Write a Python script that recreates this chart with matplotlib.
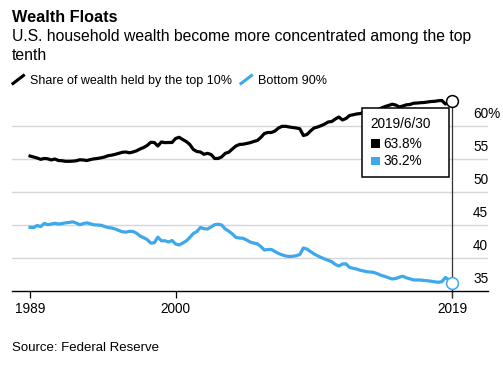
import numpy as np
import matplotlib.pyplot as plt
from matplotlib.lines import Line2D
from matplotlib.patches import Rectangle
from matplotlib.transforms import ScaledTranslation

plt.rcParams['font.family'] = ['Liberation Sans', 'DejaVu Sans']

# quarterly, 1989 Q3 .. 2019 Q2 (quarter ends)
first_year = 1989.75
top10 = [
    55.45, 55.30, 55.15, 54.95, 55.08, 55.03, 54.85, 55.00, 54.77, 54.74,
    54.65, 54.65, 54.67, 54.73, 54.88, 54.85, 54.77, 54.91, 55.02, 55.08,
    55.18, 55.30, 55.50, 55.58, 55.71, 55.86, 56.02, 56.06, 55.94, 56.06,
    56.24, 56.52, 56.74, 57.05, 57.53, 57.50, 56.97, 57.58, 57.48, 57.50,
    57.50, 58.11, 58.29, 57.95, 57.65, 57.20, 56.44, 56.14, 56.06, 55.71,
    55.86, 55.68, 55.08, 55.08, 55.33, 55.86, 56.03, 56.52, 56.97, 57.20,
    57.24, 57.35, 57.47, 57.65, 57.80, 58.26, 58.86, 59.02, 59.02, 59.24,
    59.70, 59.95, 59.95, 59.85, 59.77, 59.70, 59.58, 58.56, 58.71, 59.24,
    59.70, 59.85, 60.05, 60.30, 60.61, 60.68, 61.06, 61.36, 60.91, 61.14,
    61.59, 61.70, 61.82, 61.89, 62.05, 62.20, 62.27, 62.35, 62.50, 62.73,
    62.95, 63.11, 63.30, 63.18, 62.88, 63.03, 63.21, 63.26, 63.44, 63.48,
    63.53, 63.56, 63.64, 63.71, 63.74, 63.83, 63.86, 63.33, 63.64, 63.80,
]
bottom90 = [
    44.65, 44.61, 44.92, 44.76, 45.23, 45.05, 45.15, 45.26, 45.15, 45.21,
    45.33, 45.38, 45.48, 45.30, 45.05, 45.21, 45.33, 45.18, 45.03, 45.00,
    44.97, 44.77, 44.61, 44.55, 44.39, 44.17, 43.98, 43.91, 44.05, 44.02,
    43.76, 43.33, 43.08, 42.79, 42.27, 42.30, 43.15, 42.61, 42.62, 42.42,
    42.65, 42.12, 41.97, 42.27, 42.58, 43.11, 43.71, 44.02, 44.62, 44.44,
    44.39, 44.70, 45.05, 45.12, 45.00, 44.39, 44.06, 43.64, 43.11, 43.03,
    42.98, 42.73, 42.42, 42.27, 42.15, 41.74, 41.21, 41.29, 41.29, 40.98,
    40.68, 40.48, 40.30, 40.23, 40.26, 40.35, 40.53, 41.52, 41.36, 40.98,
    40.61, 40.33, 40.08, 39.85, 39.65, 39.44, 39.02, 38.79, 39.09, 39.12,
    38.56, 38.45, 38.33, 38.14, 38.03, 37.91, 37.88, 37.79, 37.58, 37.35,
    37.20, 37.00, 36.82, 36.89, 37.09, 37.24, 37.00, 36.85, 36.67, 36.67,
    36.67, 36.59, 36.55, 36.48, 36.39, 36.32, 36.41, 37.05, 36.67, 36.20,
]
ytick_vals = [35, 40, 45, 50, 55, 60]
ytick_labels = ['35', '40', '45', '50', '55', '60%']
last_date = '2019/6/30'

BLUE = '#3ea8ea'
x = first_year + 0.25 * np.arange(len(top10))

fig = plt.figure(figsize=(5.03, 3.72), dpi=100)
ax = fig.add_axes([12 / 503, 1 - 291 / 372, 476 / 503, 198 / 372])
ax.set_xlim(1988.48, 2022.0)
ax.set_ylim(35, 65)

for v in ytick_vals[1:]:
    ax.axhline(v, color='#d6d6d6', lw=1.0, zorder=0)

ax.plot(x, top10, color='black', lw=2.3, solid_joinstyle='round', zorder=3)
ax.plot(x, bottom90, color=BLUE, lw=2.3, solid_joinstyle='round', zorder=3)

# hover line + end markers
ax.plot([x[-1], x[-1]], [top10[-1], 35], color='#333333', lw=0.9, zorder=2, clip_on=False)
ax.plot([x[-1], x[-1]], [35, 34.1], color='#333333', lw=0.9, clip_on=False)
ax.plot(x[-1], top10[-1], 'o', ms=8.5, mfc='white', mec='black', mew=1.1, zorder=5, clip_on=False)
ax.plot(x[-1], bottom90[-1], 'o', ms=8.5, mfc='white', mec=BLUE, mew=1.1, zorder=5, clip_on=False)

for s in ['top', 'right', 'left']:
    ax.spines[s].set_visible(False)
ax.spines['bottom'].set_linewidth(1.0)
ax.set_yticks([])
ax.set_xticks([x[0], 2000.0, x[-1]])
ax.set_xticklabels(['1989', '2000', '2019'])
ax.tick_params(axis='x', length=5, width=0.9, pad=3, labelsize=9.8)

off = ScaledTranslation(0, 0.08, fig.dpi_scale_trans)
for v, lab in zip(ytick_vals, ytick_labels):
    ax.text(0.9685, v, lab, transform=ax.get_yaxis_transform() + off,
            ha='left', va='baseline', fontsize=9.8)

# tooltip box
fig.add_artist(Rectangle((362 / 503, 1 - 177 / 372), 87 / 503, 69 / 372,
                         transform=fig.transFigure, facecolor='white',
                         edgecolor='black', lw=1.1, zorder=10))
fig.text(370 / 503, 1 - 127.5 / 372, last_date, fontsize=9.8, va='baseline', zorder=11)
fig.add_artist(Rectangle((371 / 503, 1 - 147.5 / 372), 9 / 503, 8.5 / 372,
                         transform=fig.transFigure, facecolor='black', lw=0, zorder=11))
fig.text(383 / 503, 1 - 147.5 / 372, f'{top10[-1]:.1f}%', fontsize=9.8, va='baseline', zorder=11)
fig.add_artist(Rectangle((371 / 503, 1 - 165.5 / 372), 9 / 503, 8.5 / 372,
                         transform=fig.transFigure, facecolor=BLUE, lw=0, zorder=11))
fig.text(383 / 503, 1 - 165.5 / 372, f'{bottom90[-1]:.1f}%', fontsize=9.8, va='baseline', zorder=11)

# titles
fig.text(12 / 503, 1 - 22 / 372, 'Wealth Floats', fontsize=11.7, fontweight='bold', va='baseline')
fig.text(12 / 503, 1 - 40.7 / 372, 'U.S. household wealth become more concentrated among the top',
         fontsize=11.3, va='baseline')
fig.text(12 / 503, 1 - 60 / 372, 'tenth', fontsize=11.3, va='baseline')

# legend
fig.add_artist(Line2D([13 / 503, 23.5 / 503], [1 - 83.5 / 372, 1 - 75.5 / 372],
                      transform=fig.transFigure, color='black', lw=2.2))
fig.text(30 / 503, 1 - 84 / 372, 'Share of wealth held by the top 10%', fontsize=9.0, va='baseline')
fig.add_artist(Line2D([241 / 503, 251.5 / 503], [1 - 83.5 / 372, 1 - 75.5 / 372],
                      transform=fig.transFigure, color=BLUE, lw=2.2))
fig.text(258 / 503, 1 - 84 / 372, 'Bottom 90%', fontsize=9.1, va='baseline')

fig.text(12 / 503, 1 - 351 / 372, 'Source: Federal Reserve', fontsize=9.5, va='baseline')

fig.savefig('out.png', dpi=100)
